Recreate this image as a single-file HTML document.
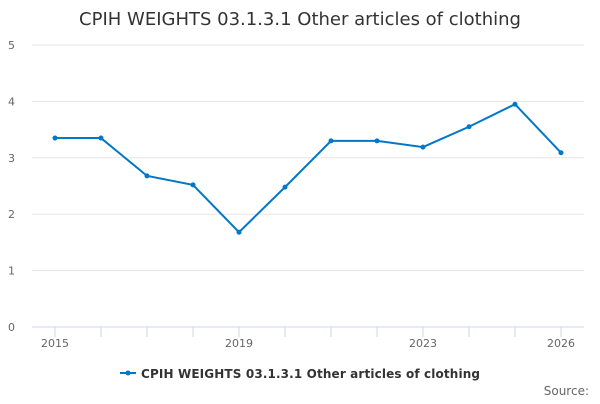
<!DOCTYPE html>
<html><head><meta charset="utf-8"><style>
body{margin:0;background:#fff;font-family:"DejaVu Sans","Liberation Sans",sans-serif}
</style></head><body>
<svg width="600" height="400" xmlns="http://www.w3.org/2000/svg" id="chart">
<text x="300" y="25" text-anchor="middle" font-size="18" fill="#333">CPIH WEIGHTS 03.1.3.1 Other articles of clothing</text>
<g id="grid"></g><g id="xaxis"></g><g id="series"></g>
<g>
<line x1="120" y1="373" x2="136" y2="373" stroke="#0077c8" stroke-width="2"/>
<circle cx="128" cy="373" r="2.5" fill="#0077c8"/>
<text x="141" y="378" font-size="12" font-weight="bold" fill="#333" textLength="339" lengthAdjust="spacing">CPIH WEIGHTS 03.1.3.1 Other articles of clothing</text>
</g>
<text x="589" y="395" text-anchor="end" font-size="12" fill="#666">Source:</text>
</svg>
<script>
const years=[2015,2016,2017,2018,2019,2020,2021,2022,2023,2024,2025,2026];
const values=[3.35,3.35,2.68,2.52,1.68,2.48,3.30,3.30,3.19,3.55,3.95,3.09];
const yTicks=[0,1,2,3,4,5];
const xLabels=[2015,2019,2023,2026];
const ns="http://www.w3.org/2000/svg";
const X=v=>55+(v-2015)*46, Y=v=>327-v*56.4;
function mk(t,a,p){const e=document.createElementNS(ns,t);for(const k in a)e.setAttribute(k,a[k]);p.appendChild(e);return e;}
const g=document.getElementById('grid');
yTicks.forEach(t=>{
 const l=mk('line',{x1:32,x2:584,y1:Y(t),y2:Y(t),stroke:t?'#e6e6e6':'#ccd6eb'},g);
 
 
 const s=mk('text',{x:15,y:Y(t)+4,'font-size':11,fill:'#666','text-anchor':'end'},g);s.textContent=t;
 
 
});
const xa=document.getElementById('xaxis');
years.forEach(y=>{const l=mk('line',{x1:X(y),x2:X(y),y1:327,y2:337,stroke:'#ccd6eb'},xa);
 
 });
xLabels.forEach(y=>{const s=mk('text',{x:X(y),y:347,'font-size':11,fill:'#666','text-anchor':'middle'},xa);s.textContent=y;
 
 });
const se=document.getElementById('series');
const p=mk('path',{d:years.map((y,i)=>(i?'L':'M')+X(y)+' '+Y(values[i])).join(''),fill:'none',stroke:'#0077c8','stroke-width':2},se);


years.forEach((y,i)=>{const c=mk('circle',{cx:X(y),cy:Y(values[i]),r:2.5,fill:'#0077c8'},se);
 
 });
</script>
</body></html>
